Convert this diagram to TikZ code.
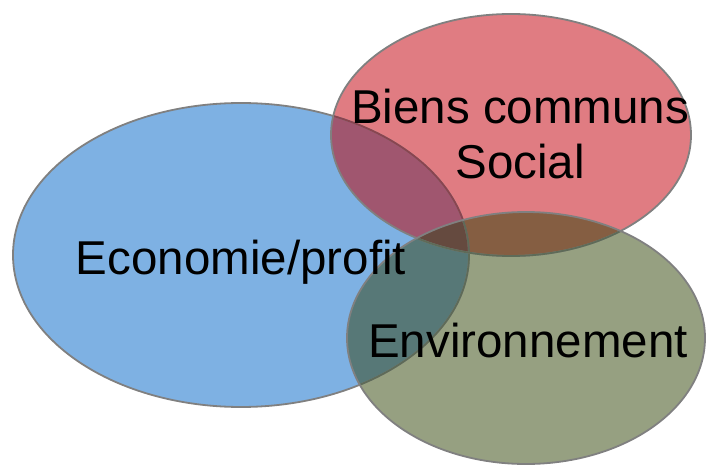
\documentclass[tikz,border=0pt]{standalone}
\usepackage{fontspec}
\setmainfont{Liberation Sans}
\definecolor{blueF}{HTML}{7EB1E3}
\definecolor{redF}{HTML}{E07C82}
\definecolor{greenF}{HTML}{96A081}
\definecolor{brF}{HTML}{A0566F}
\definecolor{bgF}{HTML}{577877}
\definecolor{rgF}{HTML}{855E42}
\definecolor{allF}{HTML}{654A3F}
\definecolor{edgeC}{HTML}{808080}
\definecolor{edgeR}{HTML}{8A4450}
\definecolor{edgeG}{HTML}{5E6B58}
\definecolor{edgeRG}{HTML}{645A48}
\tikzset{
  ecoE/.style={insert path={(241,255) ellipse [x radius=228pt, y radius=152pt]}},
  socE/.style={insert path={(511,135) ellipse [x radius=180pt, y radius=121pt]}},
  envE/.style={insert path={(526,338) ellipse [x radius=179pt, y radius=126pt]}},
  edge/.style={line width=1.8pt},
  lbl/.style={anchor=base, inner sep=0pt, font=\fontsize{47.5}{54}\selectfont, text=black}
}
\begin{document}
\begin{tikzpicture}[x=1pt,y=-1pt]
\useasboundingbox (0,0) rectangle (707,465);
% base fills
\fill[blueF, ecoE];
\fill[redF, socE];
\fill[greenF, envE];
% overlaps
\begin{scope}\clip[ecoE]; \fill[brF, socE];\end{scope}
\begin{scope}\clip[ecoE]; \fill[bgF, envE];\end{scope}
\begin{scope}\clip[socE]; \fill[rgF, envE];\end{scope}
\begin{scope}\clip[ecoE]; \clip[socE]; \fill[allF, envE];\end{scope}
% outlines
\draw[edge, edgeC, ecoE];
\begin{scope}\clip[socE]; \draw[edge, edgeR, ecoE];\end{scope}
\begin{scope}\clip[envE]; \draw[edge, edgeG, ecoE];\end{scope}
\draw[edge, edgeC, socE];
\begin{scope}\clip[envE]; \draw[edge, edgeG, socE];\end{scope}
\draw[edge, edgeC, envE];
% labels
\node[lbl] (eco) at (241,275) {Economie/profit};
\node[lbl] (biens) at (520,124) {Biens communs};
\node[lbl] (social) at (520,179) {Social};
\node[lbl] (env) at (528,357) {Environnement};
\end{tikzpicture}
\end{document}
